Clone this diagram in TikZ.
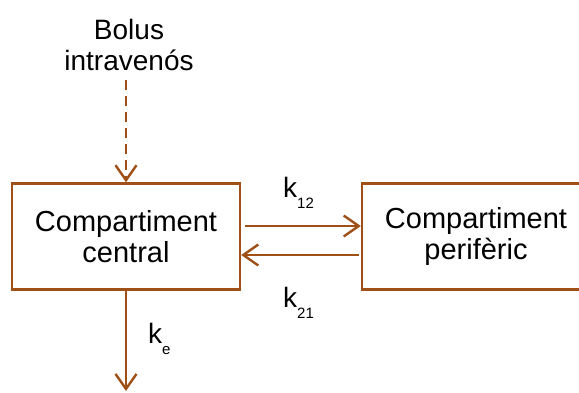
\documentclass[tikz,border=0pt]{standalone}
\usepackage{fontspec}
\setmainfont{Liberation Sans}
\usetikzlibrary{arrows.meta}
\definecolor{brn}{RGB}{158,80,22}
\newcommand{\subk}[1]{k\raisebox{-11pt}{\fontsize{15}{15}\selectfont #1}}
\begin{document}
\begin{tikzpicture}[x=1pt,y=-1pt,
  box/.style={draw=brn, line width=2.4pt, inner sep=0pt, align=center,
    minimum width=228pt, minimum height=106pt,
    font=\fontsize{29}{31}\selectfont},
  flow/.style={draw=brn, line width=2.4pt, -{Straight Barb[length=15pt,width=21pt]}},
  lbl/.style={font=\fontsize{28}{31}\selectfont, inner sep=0pt, align=center},
]
\useasboundingbox (0,0) rectangle (579,392);

% compartments
\node[box] (central) at (126,236.5) {Compartiment\\central};
\node[box] (peri) at (476,236.5) {Compartiment\\perifèric};

% dose input
\node[lbl, anchor=north] (bolus) at (129,19) {Bolus\\intravenós};
\draw[flow, dash pattern=on 10pt off 6pt, shorten <=9pt]
  (central.north |- bolus.south) -- (central.north);

% exchange between compartments
\draw[flow, shorten <=4pt] ([yshift=10.5pt]central.east) -- ([yshift=10.5pt]peri.west);
\draw[flow, shorten <=2pt] ([yshift=-18.5pt]peri.west) -- ([yshift=-18.5pt]central.east);

% elimination
\coordinate (out) at (126,391);
\draw[flow] (central.south) -- (out);

% rate constants
\node[lbl, anchor=base west] (k12) at (283,197) {\subk{12}};
\node[lbl, anchor=base west] (k21) at (283,307) {\subk{21}};
\node[lbl, anchor=base west] (ke) at (148,343) {\subk{e}};
\end{tikzpicture}
\end{document}
